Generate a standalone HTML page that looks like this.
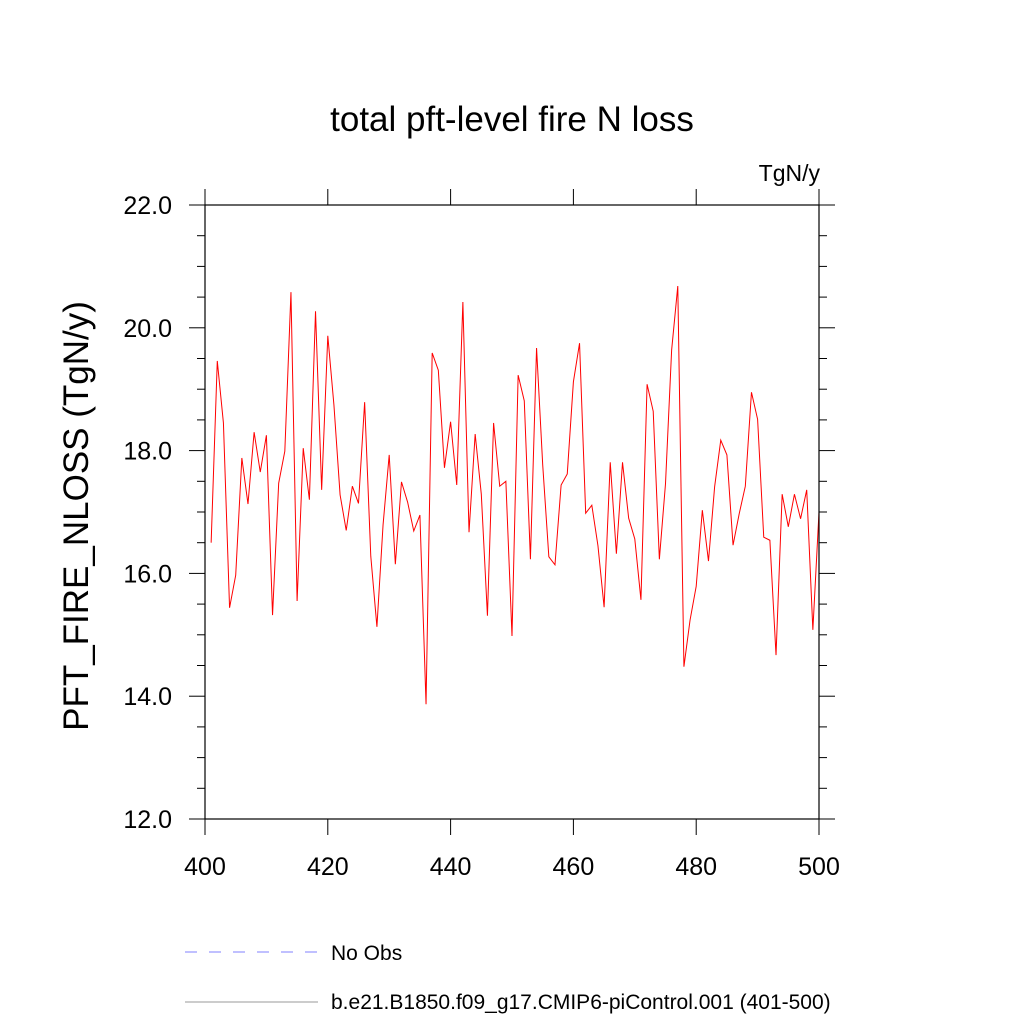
<!DOCTYPE html>
<html><head><meta charset="utf-8"><style>
body{margin:0;background:#fff;}
text{font-family:"Liberation Sans",sans-serif;}
</style></head><body>
<svg id="chart" width="1024" height="1024" xmlns="http://www.w3.org/2000/svg">
<rect width="1024" height="1024" fill="#fff"/>
<text x="512" y="131" font-size="35" text-anchor="middle">total pft-level fire N loss</text>
<text x="820" y="181" font-size="23" text-anchor="end">TgN/y</text>
<text transform="translate(88,516) rotate(-90)" font-size="35" text-anchor="middle">PFT_FIRE_NLOSS  (TgN/y)</text>
<g id="axes"></g>
<polyline id="series" fill="none" stroke="#ff0000" stroke-width="1"/>
<rect x="205" y="205" width="614" height="614" fill="none" stroke="#000" stroke-width="1.2"/>
<line x1="185" y1="952" x2="318" y2="952" stroke="#8080ff" stroke-width="1" stroke-dasharray="12,12"/>
<text x="331" y="960" font-size="21">No Obs</text>
<line x1="185" y1="1002" x2="318" y2="1002" stroke="#999" stroke-width="1"/>
<text x="331" y="1009" font-size="21">b.e21.B1850.f09_g17.CMIP6-piControl.001 (401-500)</text>
</svg>
<script>
const years=[];for(let i=401;i<=500;i++)years.push(i);
const values=[16.5,19.46,18.45,15.44,15.97,17.88,17.13,18.3,17.65,18.25,15.32,17.47,17.99,20.58,15.55,18.04,17.2,20.27,17.36,19.87,18.74,17.28,16.7,17.42,17.14,18.79,16.28,15.13,16.79,17.93,16.15,17.49,17.16,16.69,16.95,13.87,19.59,19.31,17.72,18.47,17.44,20.42,16.67,18.27,17.29,15.31,18.45,17.42,17.5,14.98,19.23,18.81,16.23,19.67,17.77,16.27,16.14,17.44,17.62,19.12,19.75,16.98,17.11,16.45,15.45,17.81,16.32,17.81,16.9,16.56,15.57,19.08,18.64,16.23,17.46,19.64,20.68,14.48,15.24,15.79,17.03,16.2,17.41,18.17,17.93,16.46,16.97,17.42,18.95,18.51,16.59,16.54,14.67,17.29,16.76,17.29,16.89,17.36,15.08,17.0];
const xTicks=[400,420,440,460,480,500];
const yTicks=[12,14,16,18,20,22];
const x=v=>205+(v-400)*6.14;
const y=v=>819-(v-12)*61.4;
const NS="http://www.w3.org/2000/svg";
const ax=document.getElementById('axes');
function ln(x1,y1,x2,y2,name){const l=document.createElementNS(NS,'line');l.setAttribute('x1',x1);l.setAttribute('y1',y1);l.setAttribute('x2',x2);l.setAttribute('y2',y2);l.setAttribute('stroke','#000');l.setAttribute('stroke-width','1');


ax.appendChild(l);}
function tx(xp,yp,s,anchor,name){const t=document.createElementNS(NS,'text');t.setAttribute('x',xp);t.setAttribute('y',yp);t.setAttribute('font-size','25');t.setAttribute('text-anchor',anchor);t.textContent=s;


ax.appendChild(t);}
for(let v=12;v<=22.001;v+=0.5){const major=Math.abs(v-Math.round(v/2)*2)<1e-6;const L=major?16:8;
ln(205-L,y(v),205,y(v),'y-tick');ln(819,y(v),819+L,y(v),'y-tick-right');}
xTicks.forEach(v=>{ln(x(v),819,x(v),835,'x-tick');ln(x(v),205,x(v),189,'x-tick-top');});
yTicks.forEach(v=>tx(172,y(v)+9,v.toFixed(1),'end','y-tick-label'));
xTicks.forEach(v=>tx(x(v),875,String(v),'middle','x-tick-label'));
document.getElementById('series').setAttribute('points',years.map((yr,i)=>x(yr)+','+y(values[i])).join(' '));
</script>
</body></html>
